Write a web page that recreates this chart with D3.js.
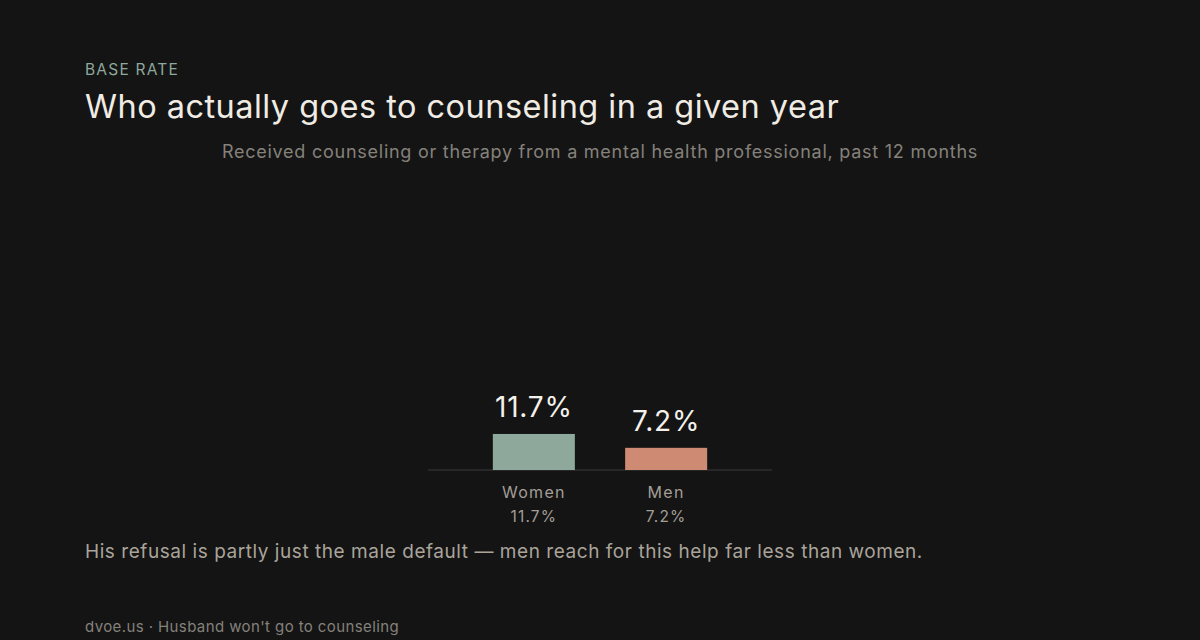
<!DOCTYPE html>
<html>
<head>
<meta charset="utf-8">
<script src="https://d3js.org/d3.v7.min.js"></script>
<style>
  body { margin: 0; background: #141414; }
  svg text { font-family: Inter, "Noto Sans", sans-serif; }
</style>
</head>
<body>
<svg id="chart" width="1200" height="640"></svg>
<script>
  var categories = ["Women", "Men"];
  var values = [11.7, 7.2];
  var barColors = ["#8fa89c", "#cf8a73"];

  var svg = d3.select("#chart");
  svg.append("rect").attr("width", 1200).attr("height", 640).attr("fill", "#141414");

  // header
  svg.append("text").text("BASE RATE")
    .attr("x", 85).attr("y", 75)
    .attr("font-size", 15.5).attr("letter-spacing", 1.2).attr("fill", "#8fa89c");
  svg.append("text").text("Who actually goes to counseling in a given year")
    .attr("x", 85).attr("y", 118)
    .attr("font-size", 32.5).attr("letter-spacing", 0.47).attr("fill", "#f0ece4");
  svg.append("text").text("Received counseling or therapy from a mental health professional, past 12 months")
    .attr("x", 600).attr("y", 158).attr("text-anchor", "middle")
    .attr("font-size", 18).attr("letter-spacing", 0.75).attr("fill", "#85817b");

  var x = d3.scaleBand().domain(categories).range([428, 772])
    .paddingInner(0.38).paddingOuter(0.49);
  var y = d3.scaleLinear().domain([0, 100]).range([470, 162]);

  svg.append("line")
    .attr("x1", 428).attr("x2", 772)
    .attr("y1", y(0)).attr("y2", y(0))
    .attr("stroke", "#3a3a3a").attr("stroke-width", 1);

  var g = svg.selectAll(".bar").data(categories).enter().append("g");

  g.append("rect")
    .attr("x", function(d) { return x(d); })
    .attr("y", function(d, i) { return y(values[i]); })
    .attr("width", x.bandwidth())
    .attr("height", function(d, i) { return y(0) - y(values[i]); })
    .attr("fill", function(d, i) { return barColors[i]; });

  g.append("text")
    .text(function(d, i) { return values[i] + "%"; })
    .attr("x", function(d) { return x(d) + x.bandwidth() / 2; })
    .attr("y", function(d, i) { return y(values[i]) - 17; })
    .attr("text-anchor", "middle")
    .attr("font-size", 28).attr("letter-spacing", 0.8).attr("fill", "#f4f1ea");

  g.append("text")
    .text(function(d) { return d; })
    .attr("x", function(d) { return x(d) + x.bandwidth() / 2; })
    .attr("y", y(0) + 28)
    .attr("text-anchor", "middle")
    .attr("font-size", 16).attr("letter-spacing", 1.3).attr("fill", "#a39e96");

  g.append("text")
    .text(function(d, i) { return values[i] + "%"; })
    .attr("x", function(d) { return x(d) + x.bandwidth() / 2; })
    .attr("y", y(0) + 52)
    .attr("text-anchor", "middle")
    .attr("font-size", 15.5).attr("letter-spacing", 1.2).attr("fill", "#a39e96");

  svg.append("text").text("His refusal is partly just the male default \u2014 men reach for this help far less than women.")
    .attr("x", 85).attr("y", 558)
    .attr("font-size", 19).attr("letter-spacing", 0.55).attr("fill", "#aaa49b");
  svg.append("text").text("dvoe.us \u00b7 Husband won't go to counseling")
    .attr("x", 85).attr("y", 632)
    .attr("font-size", 15).attr("letter-spacing", 0.4).attr("fill", "#85817b");
</script>
</body>
</html>
